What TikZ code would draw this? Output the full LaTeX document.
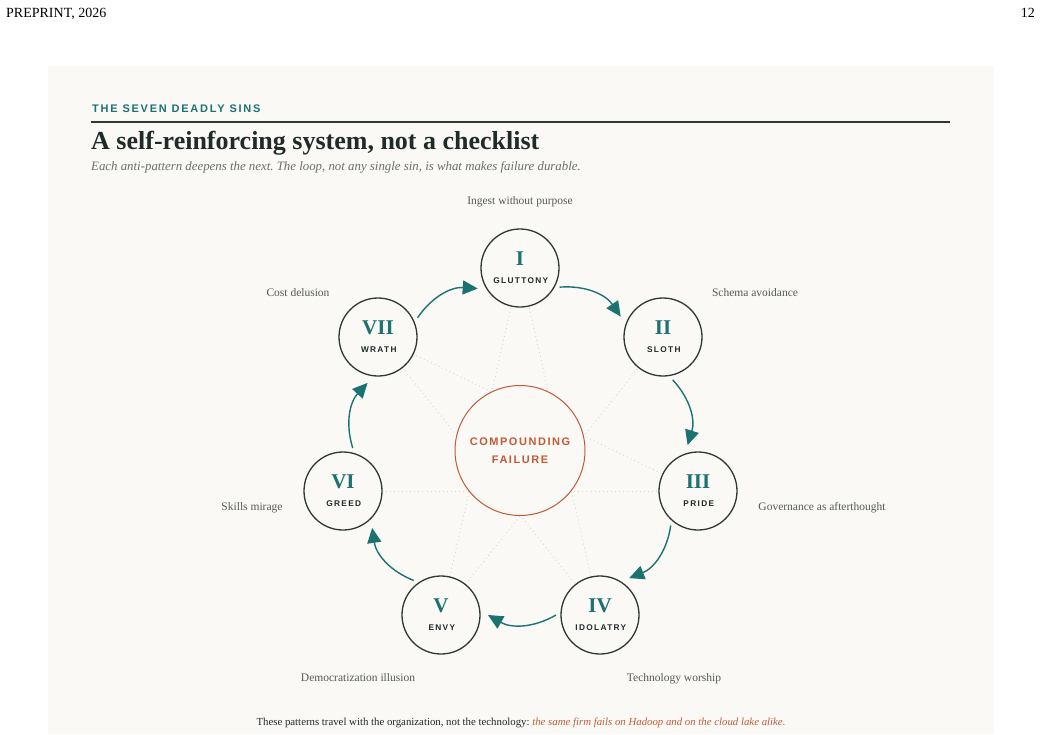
\documentclass[tikz,border=0pt]{standalone}
\usepackage{fontspec}
\setmainfont{Liberation Serif}
\newfontfamily\kickerfont[LetterSpace=16]{Liberation Sans}
\newfontfamily\namefont[LetterSpace=16]{Liberation Sans}
\newfontfamily\corefont[LetterSpace=14]{Liberation Sans}
\usetikzlibrary{arrows.meta,calc}
\definecolor{sinteal}{HTML}{1B7271}
\definecolor{sinorange}{HTML}{C15B36}
\definecolor{inkdark}{HTML}{1F2A29}
\definecolor{ringdark}{HTML}{2E3836}
\definecolor{panelbg}{HTML}{FAF9F6}
\definecolor{labgray}{HTML}{555B58}
\definecolor{subgray}{HTML}{6A706D}
\definecolor{dotgray}{HTML}{D6D6D1}
\frenchspacing
\tikzset{
  sinnode/.style={circle, draw=ringdark, line width=1.3pt, fill=panelbg, minimum size=78pt, inner sep=0pt},
  numst/.style={anchor=base, inner sep=0pt, text=sinteal, font=\fontsize{21}{21}\selectfont\bfseries},
  namest/.style={anchor=base, inner sep=0pt, text=inkdark, font=\namefont\fontsize{8.3}{8.3}\selectfont\bfseries},
  labst/.style={anchor=base, inner sep=0pt, text=labgray, font=\fontsize{11.5}{13}\selectfont},
  flow/.style={draw=sinteal, line width=1.4pt, -{Triangle[length=15pt,width=14pt]}},
  dotline/.style={draw=dotgray, line width=0.9pt, dash pattern=on 0.9pt off 3.2pt},
}
\begin{document}
\begin{tikzpicture}[x=1pt,y=1pt]
\useasboundingbox (0,0) rectangle (1041,-734);
\fill[white] (0,0) rectangle (1041,-734);
\fill[panelbg] (48,-66) rectangle (994,-734);
% header
\node[anchor=base west, inner sep=0pt, text=black, font=\fontsize{14}{16}\selectfont] (hdr) at (6,-17) {PREPRINT, 2026};
\node[anchor=base east, inner sep=0pt, text=black, font=\fontsize{14}{16}\selectfont] (pgno) at (1035,-17) {12};
% titles
\node[anchor=base west, inner sep=0pt, text=sinteal, font=\kickerfont\fontsize{11}{12}\selectfont\bfseries] (kicker) at (92,-112) {THE SEVEN DEADLY SINS};
\draw[draw=ringdark, line width=1.6pt] (91,-122) -- (950,-122);
\node[anchor=base west, inner sep=0pt, text=inkdark, font=\fontsize{26}{28}\selectfont\bfseries] (title) at (91,-149) {A self-reinforcing system, not a checklist};
\node[anchor=base west, inner sep=0pt, text=subgray, font=\fontsize{12.85}{15}\selectfont\itshape] (subtitle) at (91,-170) {Each anti-pattern deepens the next. The loop, not any single sin, is what makes failure durable.};
% positions
\coordinate (c1) at (520,-268);
\coordinate (c2) at (663,-337);
\coordinate (c3) at (698,-491);
\coordinate (c4) at (600,-615);
\coordinate (c5) at (441,-615);
\coordinate (c6) at (343,-491);
\coordinate (c7) at (378,-337);
% dotted star
\draw[dotline] (c1) -- (c4);
\draw[dotline] (c1) -- (c5);
\draw[dotline] (c2) -- (c5);
\draw[dotline] (c3) -- (c6);
\draw[dotline] (c3) -- (c7);
\draw[dotline] (c4) -- (c7);
% core
\node[circle, draw=sinorange, line width=1pt, fill=panelbg, minimum size=130pt, inner sep=0pt, align=center, text=sinorange, font=\corefont\fontsize{11}{18}\selectfont\bfseries] (core) at (520,-450.5) {COMPOUNDING\\FAILURE};
% sin nodes
\foreach \i/\num/\nm in {1/I/GLUTTONY,2/II/SLOTH,3/III/PRIDE,4/IV/IDOLATRY,5/V/ENVY,6/VI/GREED,7/VII/WRATH}{
  \node[sinnode] (n\i) at (c\i) {};
  \node[numst] (n\i num) at ($(c\i)+(0,3)$) {\num};
  \node[namest] (n\i name) at ($(c\i)+(0.8,-15)$) {\nm};
}
% arrows
\foreach \a/\b in {1/2,2/3,3/4,4/5,5/6,6/7,7/1}{
  \draw[flow] ($(c\a)!44pt!(c\b)$) to[bend left=30] ($(c\b)!47pt!(c\a)$);
}
% labels
\node[labst] (l1) at (520,-204) {Ingest without purpose};
\node[labst] (l2) at (755,-296) {Schema avoidance};
\node[labst] (l3) at (822,-510) {Governance as afterthought};
\node[labst] (l4) at (674,-681) {Technology worship};
\node[labst] (l5) at (358,-681) {Democratization illusion};
\node[labst] (l6) at (252,-510) {Skills mirage};
\node[labst] (l7) at (298,-296) {Cost delusion};
% footer
\node[anchor=base, inner sep=0pt, text=inkdark, font=\fontsize{10.8}{13}\selectfont] (foot) at (521,-725) {These patterns travel with the organization, not the technology: \textcolor{sinorange}{\itshape the same firm fails on Hadoop and on the cloud lake alike.}};
\end{tikzpicture}
\end{document}
